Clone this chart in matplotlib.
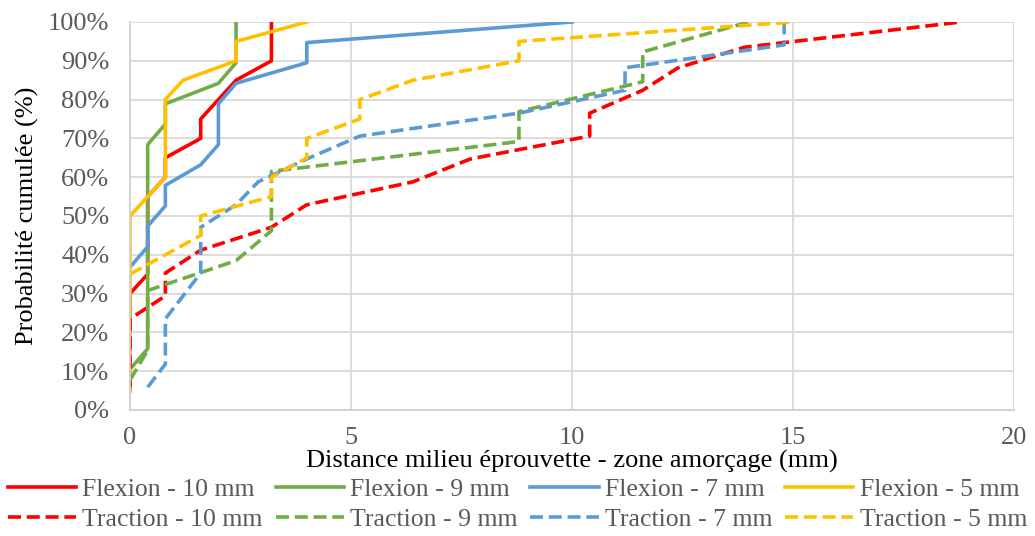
import matplotlib
matplotlib.use("Agg")
import matplotlib.pyplot as plt
from matplotlib.ticker import PercentFormatter

plt.rcParams["font.family"] = ["Liberation Serif", "DejaVu Serif"]
plt.rcParams["text.color"] = "#595959"
plt.rcParams["xtick.color"] = "#595959"
plt.rcParams["ytick.color"] = "#595959"

# cumulative curves, x in mm, y in %
flex10_x = [0, 0, 0.4, 0.4, 0.8, 0.8, 1.6, 1.6, 2.4, 3.2, 3.2]
flex10_y = [5, 30, 35, 55, 60, 65, 70, 75, 85, 90, 100]
flex9_x = [0, 0.4, 0.4, 0.8, 0.8, 2.0, 2.4, 2.4]
flex9_y = [10.5, 15.8, 68.4, 73.7, 78.9, 84.2, 89.5, 100]
flex7_x = [0, 0.4, 0.4, 0.8, 0.8, 1.6, 2.0, 2.0, 2.4, 4.0, 4.0, 10.0]
flex7_y = [36.8, 42.1, 47.4, 52.6, 57.9, 63.2, 68.4, 78.9, 84.2, 89.5, 94.7, 100]
flex5_x = [0, 0, 0.8, 0.8, 1.2, 2.4, 2.4, 4.0]
flex5_y = [5, 50, 60, 80, 85, 90, 95, 100]

trac10_x = [0, 0, 0.8, 0.8, 1.6, 3.2, 4.0, 6.4, 7.7, 10.4, 10.4, 11.6, 12.4, 13.9, 18.8]
trac10_y = [5.9, 23.5, 29.4, 35.3, 41.2, 47.1, 52.9, 58.8, 64.7, 70.6, 76.5, 82.4, 88.2, 93.5, 100]
trac9_x = [0, 0.4, 0.4, 2.4, 3.2, 3.2, 8.8, 8.8, 11.6, 11.6, 14.0]
trac9_y = [7.7, 15.4, 30.8, 38.5, 46.2, 61.5, 69.2, 76.9, 84.6, 92.3, 100]
trac7_x = [0.4, 0.8, 0.8, 1.2, 1.6, 1.6, 2.4, 2.9, 4.0, 5.2, 8.8, 11.2, 11.2, 14.8, 14.8]
trac7_y = [5.9, 11.8, 23.5, 29.4, 35.3, 47.1, 52.9, 58.8, 64.7, 70.6, 76.5, 82.4, 88.2, 94.1, 100]
trac5_x = [0, 1.6, 1.6, 3.2, 3.2, 4.0, 4.0, 5.2, 5.2, 6.4, 8.8, 8.8, 15.0]
trac5_y = [35, 45, 50, 55, 60, 65, 70, 75, 80, 85, 90, 95, 100]

red, green, blue, yellow = "#FF0000", "#70AD47", "#5B9BD5", "#FFC000"

fig = plt.figure(figsize=(10.35, 5.36), dpi=100)
ax = fig.add_axes((130 / 1035, 1 - 410 / 536, 884 / 1035, 388 / 536))

lw = 2.6
dash = (3.6, 1.6)
ax.plot(flex10_x, flex10_y, color=red, lw=lw, label="Flexion - 10 mm")
ax.plot(flex9_x, flex9_y, color=green, lw=lw, label="Flexion - 9 mm")
ax.plot(flex7_x, flex7_y, color=blue, lw=lw, label="Flexion - 7 mm")
ax.plot(flex5_x, flex5_y, color=yellow, lw=lw, label="Flexion - 5 mm")
ax.plot(trac10_x, trac10_y, color=red, lw=lw, dashes=dash, label="Traction - 10 mm")
ax.plot(trac9_x, trac9_y, color=green, lw=lw, dashes=dash, label="Traction - 9 mm")
ax.plot(trac7_x, trac7_y, color=blue, lw=lw, dashes=dash, label="Traction - 7 mm")
ax.plot(trac5_x, trac5_y, color=yellow, lw=lw, dashes=dash, label="Traction - 5 mm")

fs = 19
ax.set_xlim(0, 20)
ax.set_ylim(0, 100)
ax.set_xticks([0, 5, 10, 15, 20])
ax.set_yticks(range(0, 101, 10))
ax.yaxis.set_major_formatter(PercentFormatter(decimals=0))
ax.grid(True, color="#D9D9D9", lw=1.3)
ax.set_axisbelow(True)
for s in ["top", "right"]:
    ax.spines[s].set_visible(False)
for s in ["left", "bottom"]:
    ax.spines[s].set_color("#D0D0D0")
    ax.spines[s].set_linewidth(1.3)
ax.tick_params(length=0, labelsize=fs)
ax.tick_params(axis="y", pad=15)
ax.tick_params(axis="x", pad=12)
ax.set_xlabel("Distance milieu éprouvette - zone amorçage (mm)", fontsize=fs, labelpad=1)
ax.set_ylabel("Probabilité cumulée (%)", fontsize=fs, labelpad=6)

h, l = ax.get_legend_handles_labels()
order = [0, 4, 1, 5, 2, 6, 3, 7]
fig.legend([h[i] for i in order], [l[i] for i in order], ncol=4, loc="lower left",
           bbox_to_anchor=(0.005, 0.004, 0.99, 0.14), mode="expand", frameon=False,
           fontsize=18.5, handlelength=2.65, handletextpad=0.25, labelspacing=0.28,
           borderaxespad=0.0, borderpad=0.1)

fig.savefig("out.png", dpi=100)
